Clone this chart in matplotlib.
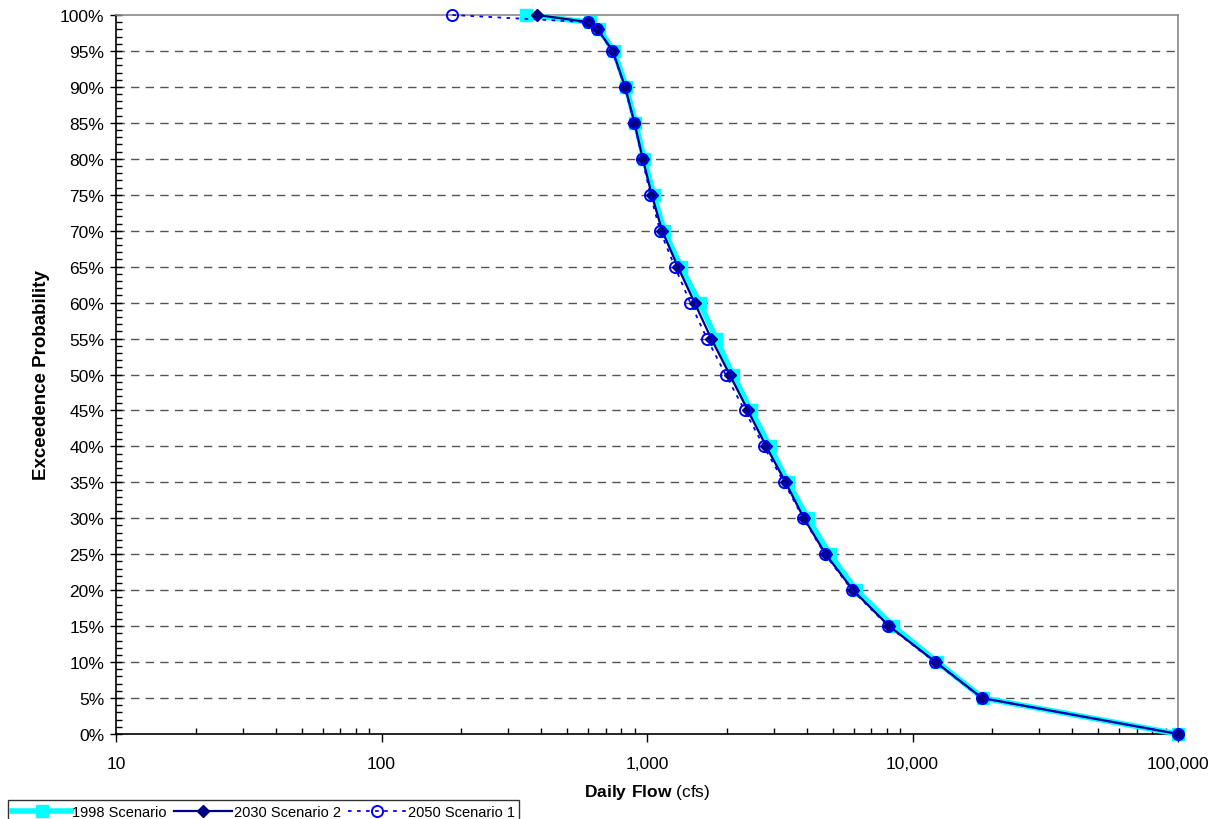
import matplotlib
matplotlib.use("Agg")
import matplotlib.pyplot as plt
from matplotlib.ticker import FixedLocator, FuncFormatter, LogLocator, NullFormatter

plt.rcParams['font.family'] = ['Liberation Sans', 'DejaVu Sans']
plt.rcParams['mathtext.fontset'] = 'custom'
plt.rcParams['mathtext.rm'] = 'Liberation Sans'
plt.rcParams['mathtext.bf'] = 'Liberation Sans:bold'

prob = [100, 99, 98, 95, 90, 85, 80, 75, 70, 65, 60, 55, 50, 45, 40, 35, 30, 25, 20, 15, 10, 5, 0]
flow_1998 = [351, 610, 660, 750, 835, 905, 975, 1060, 1160, 1340, 1577, 1822, 2100, 2470, 2897,
             3396, 4038, 4876, 6150, 8450, 12400, 18400, 100000]
flow_2030 = [386, 602, 652, 743, 827, 897, 964, 1042, 1140, 1306, 1510, 1745, 2047, 2399, 2811,
             3326, 3900, 4711, 5970, 8166, 12240, 18290, 100000]
flow_2050 = [185, 600, 650, 740, 825, 895, 960, 1030, 1120, 1272, 1455, 1682, 1977, 2333, 2754,
             3281, 3880, 4680, 5920, 8100, 12150, 18200, 100000]

labels = ["1998 Scenario", "2030 Scenario 2", "2050 Scenario 1"]
y_ticks = list(range(0, 101, 5))

W, H = 1222, 820
fig = plt.figure(figsize=(W / 100, H / 100), dpi=100)
ax = fig.add_axes([116 / W, 1 - 735 / H, (1178 - 116) / W, (735 - 16) / H])

ax.plot(flow_1998, prob, color='#00FFFF', lw=4.0, marker='s', ms=8, mfc='#00FFFF', mec='#00FFFF',
        label=labels[0], zorder=3, clip_on=False)
ax.plot(flow_2030, prob, color='#000080', lw=1.6, marker='D', ms=6.5, mfc='#000080', mec='#000080',
        label=labels[1], zorder=4, clip_on=False)
ax.plot(flow_2050, prob, color='#0000FF', lw=1.3, ls=(0, (2, 3)), marker='o', ms=8, mfc='none',
        mec='#0000FF', mew=1.4, label=labels[2], zorder=5, clip_on=False)

ax.set_xscale('log')
ax.set_xlim(10, 100000)
ax.set_ylim(0, 100)

ax.xaxis.set_major_locator(FixedLocator([10, 100, 1000, 10000, 100000]))
ax.xaxis.set_major_formatter(FuncFormatter(lambda v, p: f"{int(round(v)):,}"))
ax.xaxis.set_minor_locator(LogLocator(base=10, subs=range(2, 10)))
ax.xaxis.set_minor_formatter(NullFormatter())

ax.yaxis.set_major_locator(FixedLocator(y_ticks))
ax.yaxis.set_major_formatter(FuncFormatter(lambda v, p: f"{int(round(v))}%"))
ax.yaxis.set_minor_locator(FixedLocator(list(range(0, 101, 1))))

ax.tick_params(axis='x', which='major', direction='out', length=6, width=1, color='black',
               labelsize=12.5, pad=10)
ax.tick_params(axis='x', which='minor', direction='in', length=4, width=1, color='black')
ax.tick_params(axis='y', which='major', direction='inout', length=9, width=1, color='black',
               labelsize=12.5, pad=4)
ax.tick_params(axis='y', which='minor', direction='in', length=4, width=1, color='black')

for yv in y_ticks[1:-1]:
    ax.axhline(yv, color='#555555', lw=1.0, ls=(0, (6, 4.5)), zorder=1)

ax.spines['top'].set_color('#888888')
ax.spines['right'].set_color('#888888')
ax.spines['left'].set_color('black')
ax.spines['bottom'].set_color('black')
for s in ax.spines.values():
    s.set_linewidth(1.2)

ax.set_ylabel("Exceedence Probability", fontsize=13.5, fontweight='bold', labelpad=7)
ax.set_xlabel(r"$\mathbf{Daily\ Flow}$ (cfs)", fontsize=12.5, labelpad=8)

leg = fig.legend(loc='lower left', bbox_to_anchor=(8 / W, -4 / H), ncol=3, frameon=True,
                 fancybox=False, edgecolor='black', fontsize=10.5, handlelength=4.0,
                 handletextpad=0.1, columnspacing=0.5, borderpad=0.3, borderaxespad=0)
leg.get_frame().set_linewidth(1.0)

fig.savefig("out.png", dpi=100)
